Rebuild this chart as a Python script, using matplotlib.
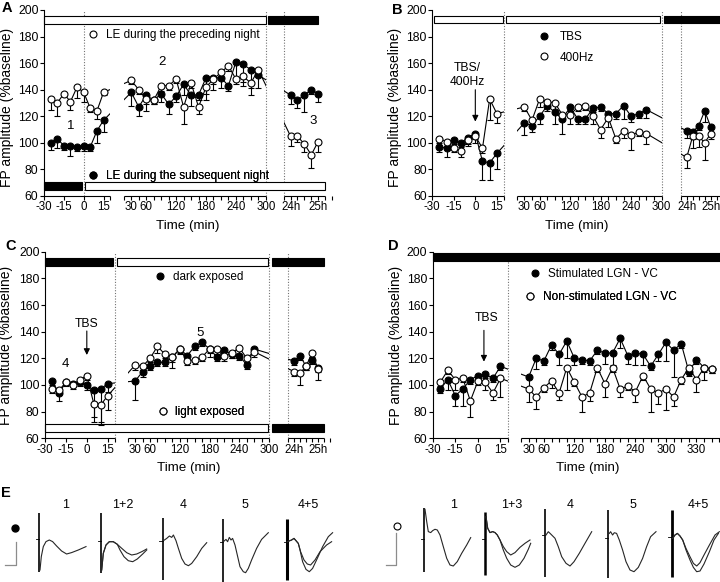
import numpy as np
import matplotlib.pyplot as plt
from matplotlib.patches import Rectangle
from matplotlib.lines import Line2D

plt.rcParams['font.family'] = ['Liberation Sans', 'DejaVu Sans']
plt.rcParams['axes.linewidth'] = 0.8

W, H = 720, 582

# ---------------- data ----------------
t_pre = [-25, -20, -15, -10, -5, 0, 5, 10, 15]
t_post_a = [30, 45, 60, 75, 90, 105, 120, 135, 150, 165, 180, 195, 210, 225, 240, 255, 270, 285]
t_post_bc = [30, 45, 60, 75, 90, 105, 120, 135, 150, 165, 180, 195, 210, 225, 240, 255, 270]
t_post_d = [30, 45, 60, 75, 90, 105, 120, 135, 150, 165, 180, 195, 210, 225, 240, 255, 270,
            285, 300, 315, 330, 345, 360, 375, 390]
t_day = [1440, 1455, 1470, 1485, 1500]   # 24h .. 25h

# A
a_fill_pre = [100, 103, 98, 98, 97, 98, 97, 109, 117]
a_fill_pre_err = [5, 7, 3, 8, 3, 4, 3, 9, 9]
a_open_pre = [133, 130, 137, 131, 142, 138, 126, 124, 138]
a_open_pre_err = [8, 10, 2, 6, 8, 7, 3, 6, 2]
a_fill_post = [138, 127, 136, 132, 137, 129, 135, 144, 136, 136, 149, 149, 149, 143, 161, 159, 155, 151]
a_fill_post_err = [10, 7, 12, 3, 6, 7, 4, 8, 8, 4, 12, 9, 8, 4, 13, 16, 19, 10]
a_open_post = [147, 140, 133, 132, 143, 143, 148, 127, 145, 127, 142, 148, 153, 158, 148, 150, 145, 155]
a_open_post_err = [3, 3, 4, 3, 4, 3, 3, 13, 4, 5, 10, 4, 4, 4, 4, 4, 4, 4]
a_fill_day = [136, 132, 136, 140, 137]
a_fill_day_err = [7, 6, 13, 3, 6]
a_open_day = [105, 105, 99, 91, 101]
a_open_day_err = [7, 4, 6, 10, 8]

# B
b_fill_pre = [97, 96, 102, 100, 104, 107, 86, 85, 92]
b_fill_pre_err = [4, 7, 3, 3, 6, 4, 14, 13, 12]
b_open_pre = [103, 101, 96, 94, 102, 105, 96, 133, 122]
b_open_pre_err = [3, 3, 3, 5, 3, 5, 4, 16, 7]
b_fill_post = [115, 113, 120, 128, 123, 118, 127, 118, 118, 126, 127, 122, 122, 128, 120, 122, 125]
b_fill_post_err = [9, 5, 6, 4, 9, 11, 3, 4, 4, 3, 3, 4, 4, 10, 4, 3, 6]
b_open_post = [127, 117, 133, 131, 130, 121, 121, 127, 128, 120, 110, 119, 103, 109, 106, 108, 107]
b_open_post_err = [3, 3, 6, 3, 6, 3, 7, 3, 3, 6, 6, 7, 3, 5, 11, 3, 8]
b_fill_day = [109, 108, 113, 124, 112]
b_fill_day_err = [5, 5, 3, 8, 4]
b_open_day = [89, 105, 105, 100, 107]
b_open_day_err = [8, 9, 8, 13, 4]

# C
c_fill_pre = [103, 94, 102, 101, 102, 100, 96, 97, 101]
c_fill_pre_err = [3, 6, 3, 2, 3, 4, 20, 25, 6]
c_open_pre = [97, 96, 102, 100, 104, 107, 86, 85, 92]
c_open_pre_err = [3, 3, 2, 3, 2, 3, 14, 15, 11]
c_fill_post = [103, 110, 114, 117, 117, 121, 127, 122, 129, 132, 127, 121, 126, 123, 122, 115, 127]
c_fill_post_err = [14, 4, 3, 3, 3, 4, 3, 3, 3, 3, 3, 3, 3, 3, 3, 3, 3]
c_open_post = [115, 114, 120, 129, 123, 121, 127, 118, 119, 121, 127, 127, 122, 124, 128, 120, 125]
c_open_post_err = [4, 3, 3, 5, 3, 8, 4, 3, 3, 3, 6, 4, 4, 4, 7, 3, 4]
c_fill_day = [118, 122, 114, 119, 113]
c_fill_day_err = [3, 3, 3, 3, 3]
c_open_day = [110, 109, 114, 124, 112]
c_open_day_err = [3, 9, 3, 3, 8]

# D
d_fill_pre = [97, 104, 92, 97, 104, 107, 108, 105, 114]
d_fill_pre_err = [3, 8, 8, 13, 3, 3, 3, 3, 3]
d_open_pre = [102, 111, 104, 105, 88, 103, 102, 94, 105]
d_open_pre_err = [3, 3, 8, 3, 12, 3, 6, 5, 14]
d_fill_post = [106, 120, 118, 130, 123, 133, 120, 119, 118, 126, 124, 124, 135, 122, 124, 123, 114,
               123, 132, 126, 131, 110, 119, 113, 112]
d_fill_post_err = [8, 8, 3, 4, 8, 13, 5, 3, 3, 3, 8, 9, 7, 6, 9, 8, 3, 5, 14, 20, 3, 3, 3, 3, 3]
d_open_post = [97, 91, 98, 103, 94, 113, 102, 91, 94, 113, 101, 113, 97, 99, 95, 107, 97, 94, 97,
               91, 104, 113, 104, 113, 112]
d_open_post_err = [10, 9, 3, 5, 5, 17, 3, 11, 6, 3, 10, 3, 6, 3, 8, 3, 17, 8, 16, 7, 3, 3, 9, 9, 3]

# E: field potential traces (dx, dv) relative to stimulus artifact and baseline
e_fill_1 = [([0.7, 2, 4, 6.7, 10, 13.3, 17.3, 22.3, 27.3, 32.3, 39, 46.7],
             [-30.7, -17.3, -7.3, -2.3, -0.7, -2.3, -6.7, -11.7, -14.7, -13.3, -10.7, -7.3])]
e_fill_12 = [([0.7, 2.3, 5, 8.3, 12.3, 16.3, 20.7, 25.7, 30.7, 35.7, 40.7, 45.7],
              [-29, -12.3, -4, -0.7, -0.7, -3.3, -7.3, -11.7, -14, -13, -10.7, -8]),
             ([0.7, 2.3, 5, 8.3, 12.3, 16.3, 19, 23, 27.3, 31.7, 36.3, 41.7, 45.7],
              [-29, -12.3, -4, -0.7, -0.7, -3.3, -9, -15.7, -19.7, -20.7, -18, -13, -9])]
e_fill_4 = [([0.7, 4, 6.7, 9, 10.7, 13.3, 15.7, 19, 22.3, 25.7, 29, 34, 39, 44],
             [0, 2.3, 4.7, 3.3, 5.7, 0, -7.7, -17.7, -23.3, -25, -22.7, -16, -7.7, -2])]
e_fill_5 = [([0, 2.7, 4.3, 6, 7.7, 9.3, 11.7, 14, 16.7, 20, 22.3, 25, 28.3, 33.3, 38.3, 45],
             [0, 2.3, 0, 4.3, 1.7, 3.3, -3.3, -13.3, -25, -30, -31, -26.7, -18.3, -6.7, 2.3, 9])]
e_fill_45 = [([0, 4.3, 6.7, 8.7, 11, 13.3, 16.7, 20, 23.3, 27.7, 32.7, 39.3, 44.3],
              [0, 1.7, 3.3, 1, -1.7, -10, -18.3, -22.3, -23.3, -18.3, -10, -3.3, 0]),
             ([0, 4.3, 6.7, 8.7, 11, 12.7, 15.3, 18.7, 22, 25.3, 30, 35.3, 41, 45.3],
              [0, 1.7, 3.3, 1, -1.7, -8.3, -20, -27.7, -30, -26.7, -16.7, -5, 5, 9])]
e_open_1 = [([1, 2.7, 4.3, 6.7, 8.7, 11, 13.3, 16, 19.3, 22.7, 26, 29.3, 33.3, 37.7, 42.7, 46.7],
             [30, 17.7, 7.7, 6.7, 8.7, 10, 9.3, 4.3, -7.3, -19, -25.7, -26.7, -22.3, -14, -5.7, 1.7])]
e_open_13 = [([1, 2.7, 5, 7.7, 10, 12.3, 15, 18.3, 21.7, 25.7, 30, 35, 40, 45],
              [22.7, 11, 6.7, 7.7, 6.7, 4.3, -0.7, -7.3, -12.3, -15.7, -13.3, -8, -4, -0.7]),
             ([1, 2.7, 5, 7.7, 10, 12.3, 15, 18.3, 21.7, 25.7, 30, 34.3, 39, 43.3, 45.7],
              [22.7, 11, 6.7, 7.7, 6.7, 4.3, -0.7, -10.7, -19, -25.7, -28, -25.7, -19, -10, -4])]
e_open_4 = [([1, 3.3, 5, 6.7, 10, 13.3, 16.7, 21, 25, 29, 34.3, 40, 46.7],
             [0, 3.3, 1.7, 0, -3.3, -11.7, -21.7, -28.3, -31, -26.7, -18.3, -8.3, 3.3])]
e_open_5 = [([1, 2.3, 4.3, 6, 8.3, 11, 14.3, 17.7, 21.7, 25.7, 30, 34.3, 38.3, 42.3, 47.7],
             [4.3, 6, 2.7, 5, 4.3, -2.3, -12.3, -24, -32.3, -34, -29.7, -20.7, -9, 1, 6])]
e_open_45 = [([1, 3.3, 5.7, 8.3, 11, 14.3, 18.3, 21.7, 25, 28.3, 32.3, 37.7, 43.3, 47.7],
              [-1.7, 1.7, 3.3, 0.7, -3.3, -11.7, -20, -26.7, -29.3, -26, -18.3, -8.3, 1.7, 5]),
             ([1, 3.3, 5.7, 8.3, 11, 14.3, 18.3, 21.7, 25, 28.3, 32.3, 37.7, 42.3, 46.7],
              [-1.7, 1.7, 3.3, 0.7, -3.3, -13.3, -23.3, -30.7, -35, -34.3, -27.3, -15, -3.3, 3.3])]
e_labels = ['1', '1+2', '4', '5', '4+5', '1', '1+3', '4', '5', '4+5']
e_traces = [e_fill_1, e_fill_12, e_fill_4, e_fill_5, e_fill_45,
            e_open_1, e_open_13, e_open_4, e_open_5, e_open_45]
e_artifact = [(26, -32.3), (28.3, -31.7), (22.3, -39.3), (22.3, -40), (22.3, -38.3),
              (31, -32.3), (27.7, -35.7), (25.7, -41.7), (27.7, -40.7), (26.7, -40)]

# ---------------- layout (pixel positions) ----------------
seg_a = [(-30, 20, 44, 111.7), (15, 300, 125.7, 271), (1425, 1515, 289.3, 331.7)]
seg_b = [(-30, 20, 432.3, 504), (15, 300, 516.7, 661.7), (1425, 1530, 680.7, 722.7)]
seg_c = [(-30, 20, 45, 116), (15, 300, 129.3, 273.3), (1425, 1515, 292.7, 329.3)]
seg_d = [(-30, 20, 432.7, 510), (15, 420, 523.3, 734.7)]

e_origin = [(39.3, 539.3), (101, 541), (162.7, 540.7), (223.3, 541.7), (287.3, 541.7),
            (424, 539.3), (485, 539.3), (545, 535), (608.3, 537.7), (671.7, 536.7)]
e_label_x = [66, 123, 182.7, 245, 308, 454, 511.7, 570, 633.3, 698.3]
e_art_lw = [1.2, 1.2, 1.2, 1.2, 2.2, 1.2, 1.8, 1.2, 1.2, 2.0]

fig = plt.figure(figsize=(7.2, 5.82), dpi=100)


def pos(segs, t, s):
    t0, t1, p0, p1 = segs[s]
    return p0 + (np.asarray(t, dtype=float) - t0) * (p1 - p0) / (t1 - t0)


def add_panel(segs, ytop, ybot, xright):
    x0 = segs[0][2]
    ax = fig.add_axes([x0 / W, 1 - ybot / H, (xright - x0) / W, (ybot - ytop) / H])
    ax.set_xlim(x0, xright)
    ax.set_ylim(60, 200)
    ax.patch.set_alpha(0)
    for s in ['top', 'right', 'bottom']:
        ax.spines[s].set_visible(False)
    ax.set_yticks(range(60, 201, 20))
    ax.tick_params(axis='y', length=3, width=0.8, labelsize=8.7, pad=1)
    ax.tick_params(axis='x', which='both', length=3, width=0.8, labelsize=8.3, pad=0.8)
    for t0, t1, p0, p1 in segs:
        ax.plot([p0, p1], [60, 60], color='k', lw=0.8, clip_on=False, solid_capstyle='butt')
    return ax


def set_ticks(ax, segs, major, labels, minor):
    ax.set_xticks([float(pos(segs, t, s)) for t, s in major], labels)
    ax.set_xticks([float(pos(segs, t, s)) for t, s in minor], minor=True)


def std_minor(last_day=True):
    m = [(20, 0)] + [(t, 1) for t in range(15, 301, 15) if t not in (30, 60, 120, 180, 240, 300)]
    if last_day:
        m += [(t, 2) for t in range(1425, 1531, 15) if t not in (1440, 1500)]
    return m


major_std = [(-30, 0), (-15, 0), (0, 0), (15, 0), (30, 1), (60, 1), (120, 1), (180, 1),
             (240, 1), (300, 1), (1440, 2), (1500, 2)]
labels_std = ['-30', '-15', '0', '15', '30', '60', '120', '180', '240', '300', '24h', '25h']


def series(ax, segs, times, vals, errs, face):
    xs = np.concatenate([pos(segs, t, i) for i, t in enumerate(times)])
    ys = np.concatenate([np.asarray(v, float) for v in vals])
    es = np.concatenate([np.asarray(e, float) for e in errs])
    for t0, t1, p0, p1 in segs:
        ln, = ax.plot(xs, ys, color='k', lw=0.8, zorder=2)
        ln.set_clip_path(Rectangle((p0, 0), p1 - p0, 300, transform=ax.transData))
    ax.errorbar(xs, ys, yerr=[es, np.zeros_like(es)], fmt='none', ecolor='k',
                elinewidth=0.8, capsize=2.3, capthick=0.8, zorder=2.5)
    ax.plot(xs, ys, ls='none', marker='o', ms=5.0, mfc=face, mec='k', mew=0.8,
            zorder=3 if face == 'k' else 3.5)


def bar(ax, xa, xb, y0, y1, color):
    ax.add_patch(Rectangle((xa, y0), xb - xa, y1 - y0, fc=color, ec='k', lw=0.8,
                           clip_on=False, zorder=1.5))


def vdot(ax, x):
    ax.axvline(x, color='0.45', lw=0.8, ls=(0, (1, 1.5)), zorder=1)


def key(face):
    return Line2D([], [], ls='none', marker='o', ms=5.0, mfc=face, mec='k', mew=0.8)


def legend(ax, face, text, x, y, pad):
    lg = ax.legend([key(face)], [text], loc='center left', bbox_to_anchor=(x, y),
                   frameon=False, fontsize=8.5, handlelength=1.0, handletextpad=pad,
                   borderpad=0, borderaxespad=0)
    ax.add_artist(lg)


def arrow(ax, x, y_tip, y_top):
    ax.annotate('', xy=(x, y_tip), xytext=(x, y_top),
                arrowprops=dict(arrowstyle='-|>', lw=0.8, color='k', mutation_scale=9,
                                shrinkA=0, shrinkB=0))


gap = 1.8

# ---------------- panel A ----------------
axA = add_panel(seg_a, 10, 196, 332)
set_ticks(axA, seg_a, major_std, labels_std, std_minor())
for x in [pos(seg_a, 0, 0), pos(seg_a, 300, 1), seg_a[2][2]]:
    vdot(axA, x)
bar(axA, pos(seg_a, -30, 0), pos(seg_a, 300, 1), 189.5, 195.5, 'w')
bar(axA, pos(seg_a, 300, 1) + gap, pos(seg_a, 1500, 2), 189.5, 195.5, 'k')
bar(axA, pos(seg_a, -30, 0), pos(seg_a, 0, 0) - gap, 64.5, 70.5, 'k')
bar(axA, pos(seg_a, 0, 0) + gap, pos(seg_a, 1515, 2), 64.5, 70.5, 'w')
series(axA, seg_a, [t_pre, t_post_a, t_day], [a_open_pre, a_open_post, a_open_day],
       [a_open_pre_err, a_open_post_err, a_open_day_err], 'w')
series(axA, seg_a, [t_pre, t_post_a, t_day], [a_fill_pre, a_fill_post, a_fill_day],
       [a_fill_pre_err, a_fill_post_err, a_fill_day_err], 'k')
legend(axA, 'w', 'LE during the preceding night', 0.148, 0.866, 0.63)
legend(axA, 'k', 'LE during the subsequent night', 0.148, 0.109, 0.63)
axA.text(71, 112.7, '1', ha='center', va='center', fontsize=9.5)
axA.text(164.3, 161.1, '2', ha='center', va='center', fontsize=9.5)
axA.text(319, 116.7, '3', ha='center', va='center', fontsize=9.5)

# ---------------- panel B ----------------
axB = add_panel(seg_b, 10, 196, 725)
set_ticks(axB, seg_b, major_std, labels_std, std_minor())
for x in [pos(seg_b, 20, 0), pos(seg_b, 300, 1), seg_b[2][2]]:
    vdot(axB, x)
bar(axB, pos(seg_b, -30, 0) + gap, pos(seg_b, 20, 0) - gap / 2, 190, 195.5, 'w')
bar(axB, pos(seg_b, 20, 0) + gap, pos(seg_b, 300, 1) - gap, 190, 195.5, 'w')
bar(axB, pos(seg_b, 300, 1) + gap, pos(seg_b, 1530, 2) + 3, 190, 195.5, 'k')
series(axB, seg_b, [t_pre, t_post_bc, t_day], [b_open_pre, b_open_post, b_open_day],
       [b_open_pre_err, b_open_post_err, b_open_day_err], 'w')
series(axB, seg_b, [t_pre, t_post_bc, t_day], [b_fill_pre, b_fill_post, b_fill_day],
       [b_fill_pre_err, b_fill_post_err, b_fill_day_err], 'k')
lgB = axB.legend([key('k'), key('w')], ['TBS', '400Hz'], loc='center left',
                 bbox_to_anchor=(0.361, 0.80), frameon=False, fontsize=8.5,
                 handlelength=1.0, handletextpad=0.86, borderpad=0, borderaxespad=0,
                 labelspacing=0.75)
axB.text(467.5, 151, 'TBS/\n400Hz', ha='center', va='center', fontsize=8.7, linespacing=1.15)
arrow(axB, float(pos(seg_b, 0, 0)), 116, 140)

# ---------------- panel C ----------------
axC = add_panel(seg_c, 251.7, 438.3, 330)
set_ticks(axC, seg_c, major_std, labels_std, std_minor())
for x in [pos(seg_c, 20, 0), pos(seg_c, 300, 1), seg_c[2][2]]:
    vdot(axC, x)
bar(axC, pos(seg_c, -30, 0), pos(seg_c, 20, 0) - gap, 189.5, 195, 'k')
bar(axC, pos(seg_c, 20, 0) + 2.7, pos(seg_c, 300, 1) - 0.6, 189.5, 195, 'w')
bar(axC, pos(seg_c, 300, 1) + 2.7, pos(seg_c, 1515, 2), 189.5, 195, 'k')
bar(axC, pos(seg_c, -30, 0), pos(seg_c, 300, 1) - 0.6, 64.9, 70.7, 'w')
bar(axC, pos(seg_c, 300, 1) + 2.7, pos(seg_c, 1515, 2), 64.9, 70.7, 'k')
series(axC, seg_c, [t_pre, t_post_bc, t_day], [c_open_pre, c_open_post, c_open_day],
       [c_open_pre_err, c_open_post_err, c_open_day_err], 'w')
series(axC, seg_c, [t_pre, t_post_bc, t_day], [c_fill_pre, c_fill_post, c_fill_day],
       [c_fill_pre_err, c_fill_post_err, c_fill_day_err], 'k')
legend(axC, 'k', 'dark exposed', 0.383, 0.863, 0.63)
legend(axC, 'w', 'light exposed', 0.394, 0.139, 0.5)
axC.text(66, 115.5, '4', ha='center', va='center', fontsize=9.5)
axC.text(202.7, 139.2, '5', ha='center', va='center', fontsize=9.5)
axC.text(87.7, 145.5, 'TBS', ha='center', va='center', fontsize=8.7)
arrow(axC, float(pos(seg_c, 0, 0)), 122.5, 140.5)

# ---------------- panel D ----------------
axD = add_panel(seg_d, 251.7, 438.3, 727)
major_d = [(-30, 0), (-15, 0), (0, 0), (15, 0), (30, 1), (60, 1), (120, 1), (180, 1),
           (240, 1), (300, 1), (360, 1)]
labels_d = ['-30', '-15', '0', '15', '30', '60', '120', '180', '240', '300', '330']
minor_d = [(20, 0)] + [(t, 1) for t in range(15, 421, 15)
                       if t not in (30, 60, 120, 180, 240, 300, 360)]
set_ticks(axD, seg_d, major_d, labels_d, minor_d)
vdot(axD, pos(seg_d, 20, 0))
bar(axD, pos(seg_d, -30, 0), pos(seg_d, 420, 1), 193, 199, 'k')
series(axD, seg_d, [t_pre, t_post_d], [d_open_pre, d_open_post],
       [d_open_pre_err, d_open_post_err], 'w')
series(axD, seg_d, [t_pre, t_post_d], [d_fill_pre, d_fill_post],
       [d_fill_pre_err, d_fill_post_err], 'k')
legend(axD, 'k', 'Stimulated LGN - VC', 0.328, 0.88, 0.6)
legend(axD, 'w', 'Non-stimulated LGN - VC', 0.311, 0.759, 0.6)
axD.text(488.3, 150, 'TBS', ha='center', va='center', fontsize=8.7)
arrow(axD, float(pos(seg_d, 4, 0)), 117.5, 141)

# ---------------- axis titles, panel letters ----------------
for cx, cy in [(7.5, 107), (395, 107), (6.5, 345), (396, 345)]:
    fig.text(cx / W, 1 - cy / H, 'FP amplitude (%baseline)', rotation=90,
             ha='center', va='center', fontsize=10)
for cx, cy in [(188, 226.5), (577, 226.5), (189, 467.5), (588, 468)]:
    fig.text(cx / W, 1 - cy / H, 'Time (min)', ha='center', va='center', fontsize=9.6)
for letter, lx, ly in [('A', 1.5, 1), ('B', 392.5, 2.5), ('C', 5.5, 239), ('D', 388, 239),
                       ('E', 1.5, 486)]:
    fig.text(lx / W, 1 - ly / H, letter, ha='left', va='top', fontsize=10.5, weight='bold')

# ---------------- panel E ----------------
axE = fig.add_axes([0, 0, 1, 1 - 478 / H])
axE.set_xlim(0, W)
axE.set_ylim(H, 478)
axE.axis('off')
for (x0, y0), traces, (a_top, a_bot), lw, lab, lx in zip(
        e_origin, e_traces, e_artifact, e_art_lw, e_labels, e_label_x):
    axE.vlines(x0, y0 - a_top, y0 - a_bot, color='k', lw=lw)
    axE.plot([x0 - 3.3, x0], [y0, y0], color='k', lw=0.6)
    for dx, dv in traces:
        axE.plot(x0 + np.asarray(dx), y0 - np.asarray(dv), color='0.15', lw=0.8)
    axE.text(lx, 505, lab, ha='center', va='center', fontsize=9)
# scale bars and group symbols
axE.plot([5, 15.7, 15.7], [565, 565, 541.7], color='0.55', lw=0.9)
axE.plot([386, 396, 396], [565, 565, 533], color='0.55', lw=0.9)
axE.plot([15.3], [527.7], ls='none', marker='o', ms=5, mfc='k', mec='k')
axE.plot([396.7], [526], ls='none', marker='o', ms=5, mfc='w', mec='k', mew=0.8)

fig.savefig('out.png', dpi=100)
